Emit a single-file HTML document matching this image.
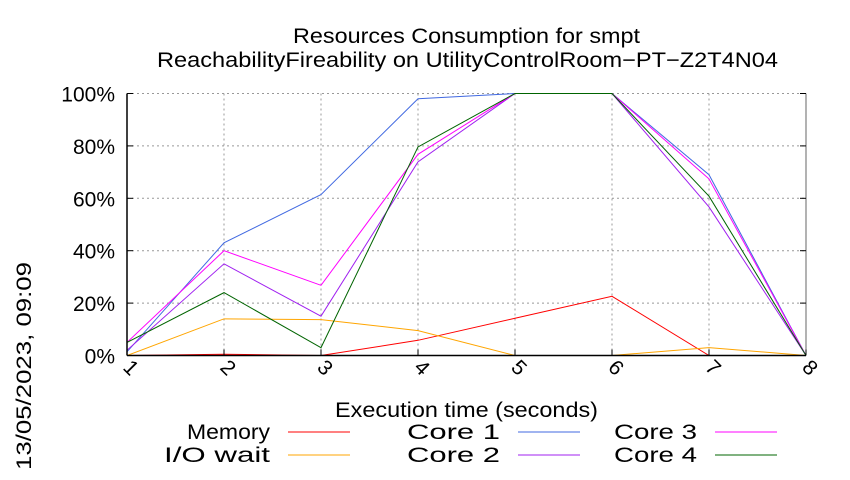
<!DOCTYPE html>
<html><head><meta charset="utf-8"><style>
body{margin:0;background:#fff;}
svg text{font-family:"Liberation Sans",sans-serif;fill:#000;}
</style></head><body>
<svg width="850" height="475" viewBox="0 0 850 475" xmlns="http://www.w3.org/2000/svg">
<g id="grid"></g>
<g id="series"></g>
<g id="axes"></g>
<text x="293" y="43" font-size="21" textLength="347" lengthAdjust="spacingAndGlyphs">Resources Consumption for smpt</text>
<text x="157" y="67" font-size="21" textLength="621" lengthAdjust="spacingAndGlyphs">ReachabilityFireability on UtilityControlRoom−PT−Z2T4N04</text>
<text x="335" y="417" font-size="21" textLength="263" lengthAdjust="spacingAndGlyphs">Execution time (seconds)</text>
<text transform="translate(31,470) rotate(-90)" font-size="21" textLength="208" lengthAdjust="spacingAndGlyphs">13/05/2023, 09:09</text>
<g id="legend"></g>
</svg>
<script>
const categories=[1,2,3,4,5,6,7,8];
const yTicks=[0,20,40,60,80,100];
const yTickLabels=["0%","20%","40%","60%","80%","100%"];
const seriesNames=["Memory","I/O wait","Core 1","Core 2","Core 3","Core 4"];
const memory=[0,0.5,0,5.8,14.2,22.6,0,0];
const ioWait=[0,14,13.7,9.5,0,0,3,0];
const core1=[1.4,43,61.4,98,100,100,69,0];
const core2=[2,35,15,73.9,100,100,56.7,0];
const core3=[5,40,26.8,76.8,100,100,67.4,0];
const core4=[5,24,3,79.6,100,100,60.8,0];
const colors=["#ff0000","#ffa500","#4169e1","#a020f0","#ff00ff","#006400"];
const L=127,R=806,T=93.5,B=355.5;
const xs=v=>L+(v-1)*(R-L)/7;
const ys=v=>B-v*(B-T)/100;
const NS="http://www.w3.org/2000/svg";
function mk(tag,parent,attrs){const e=document.createElementNS(NS,tag);for(const k in attrs)e.setAttribute(k,attrs[k]);parent.appendChild(e);return e;}
const grid=document.getElementById('grid'),axes=document.getElementById('axes'),ser=document.getElementById('series'),leg=document.getElementById('legend');
yTicks.forEach((t,i)=>{
 const y=ys(t);
 if(t>0&&t<100){const g=mk('line',grid,{x1:L,x2:R,y1:y,y2:y,stroke:'#999','stroke-dasharray':'2,3','stroke-width':1});
 
 }
 const tk=mk('text',axes,{x:L-12,y:y+8,'font-size':21,'text-anchor':'end'});tk.textContent=yTickLabels[i];
 
 
 mk('line',axes,{x1:L,x2:L+6,y1:y,y2:y,stroke:'#000'});
 mk('line',axes,{x1:R-6,x2:R,y1:y,y2:y,stroke:'#000'});
});
mk('line',grid,{x1:L,x2:R,y1:T,y2:T,stroke:'#999','stroke-dasharray':'2,3'});
categories.forEach(c=>{
 const x=xs(c);
 if(c>1&&c<8){const g=mk('line',grid,{x1:x,x2:x,y1:T,y2:B,stroke:'#999','stroke-dasharray':'2,3'});
 
 }
 mk('line',axes,{x1:x,x2:x,y1:B,y2:B-6,stroke:'#000'});
 const tk=mk('text',axes,{transform:`translate(${x-5},${B+13}) rotate(45)`,'font-size':21});tk.textContent=c;
 
 
});
mk('line',axes,{x1:L,x2:L,y1:T,y2:B,stroke:'#000','stroke-width':1.5});
mk('line',axes,{x1:L,x2:R,y1:B,y2:B,stroke:'#000','stroke-width':1.5});
mk('line',axes,{x1:R,x2:R,y1:T,y2:B,stroke:'#000','stroke-width':0.6});
const data=[memory,ioWait,core1,core2,core3,core4];
const slugs=["memory","io-wait","core-1","core-2","core-3","core-4"];
data.forEach((d,i)=>{
 const p=mk('polyline',ser,{points:d.map((v,j)=>xs(categories[j])+','+ys(v)).join(' '),fill:'none',stroke:colors[i],'stroke-width':1});
 
 
});
const legPos=[[270,432],[270,455],[500,432],[500,455],[697,432],[697,455]];
const legW=[83,106,93,93,83,83];
seriesNames.forEach((n,i)=>{
 const [x,y]=legPos[i];
 const t=mk('text',leg,{x:x-legW[i],y:y+7,'font-size':21,textLength:legW[i],lengthAdjust:'spacingAndGlyphs'});t.textContent=n;
 
 
 const l=mk('line',leg,{x1:x+18,x2:x+80,y1:y,y2:y,stroke:colors[i]});
 
 
});
</script>
</body></html>
